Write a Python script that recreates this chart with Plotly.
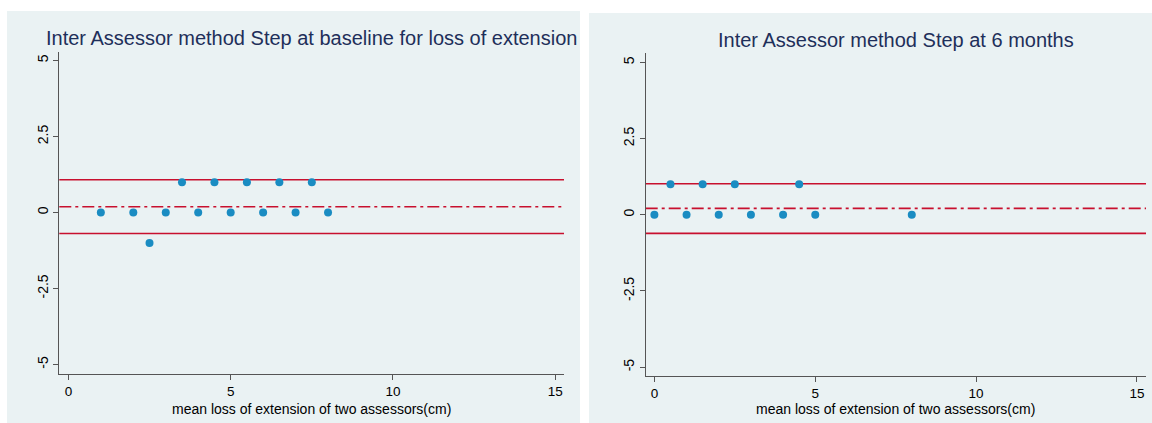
import plotly.graph_objects as go

# ---- data ----
base_mean = [1, 2, 3, 4, 5, 6, 7, 8, 3.5, 4.5, 5.5, 6.5, 7.5, 2.5]
base_diff = [0, 0, 0, 0, 0, 0, 0, 0, 1, 1, 1, 1, 1, -1]
base_lines = [1.08, 0.19, -0.69]   # upper LoA, mean diff, lower LoA

m6_mean = [0, 1, 2, 3, 4, 5, 8, 0.5, 1.5, 2.5, 4.5]
m6_diff = [0, 0, 0, 0, 0, 0, 0, 1, 1, 1, 1]
m6_lines = [1.02, 0.21, -0.61]

titles = ["Inter Assessor method Step at baseline for loss of extension",
          "Inter Assessor method Step at 6 months"]
x_title = "mean loss of extension of two assessors(cm)"
x_ticks = [0, 5, 10, 15]
y_ticks = [-5, -2.5, 0, 2.5, 5]
y_ticktext = ["-5", "-2.5", "0", "2.5", "5"]

W, H = 1152, 423
PANEL = "#EAF2F3"
MARK = "#1A8CC2"
RED = "#C8102E"
NAVY = "#1E2F5A"
FONT = "Liberation Sans, Arial, sans-serif"

fig = go.Figure()

panels = [
    dict(mx=base_mean, dy=base_diff, lines=base_lines, xa="x", ya="y",
         xd=[59.3 / W, 564 / W], yd=[1 - 373.7 / H, 1 - 51.7 / H],
         xr=[-0.28, 15.27], yr=[-5.3, 5.29],
         bg=[7, 580, 11, H], title_y=38),
    dict(mx=m6_mean, dy=m6_diff, lines=m6_lines, xa="x2", ya="y2",
         xd=[645.7 / W, 1146 / W], yd=[1 - 375.7 / H, 1 - 53.3 / H],
         xr=[-0.27, 15.28], yr=[-5.28, 5.3],
         bg=[589, W, 13, H], title_y=40),
]

shapes = []
annotations = []
for i, p in enumerate(panels):
    # panel background
    x0, x1, y0, y1 = p["bg"]
    shapes.append(dict(type="rect", xref="paper", yref="paper", layer="below",
                       x0=x0 / W, x1=x1 / W, y0=1 - y1 / H, y1=1 - y0 / H,
                       fillcolor=PANEL, line=dict(width=0)))
    # reference lines
    for j, v in enumerate(p["lines"]):
        shapes.append(dict(type="line", xref=p["xa"] + " domain", yref=p["ya"],
                           x0=0, x1=1, y0=v, y1=v, layer="below",
                           line=dict(color=RED, width=1.6,
                                     dash="solid" if j != 1 else "12px,4px,3px,4px")))
    fig.add_trace(go.Scatter(x=p["mx"], y=p["dy"], mode="markers", xaxis=p["xa"], yaxis=p["ya"],
                             marker=dict(size=8, color=MARK, line=dict(width=0)),
                             showlegend=False, hoverinfo="x+y"))
    xc = (p["xd"][0] + p["xd"][1]) / 2
    annotations.append(dict(text=titles[i], xref="paper", yref="paper", x=xc, y=1 - p["title_y"] / H,
                            xanchor="center", yanchor="middle", showarrow=False,
                            font=dict(family=FONT, size=20, color=NAVY)))
    annotations.append(dict(text=x_title, xref="paper", yref="paper", x=xc,
                            y=1 - (p["yd"][0] * 0 + 409) / H,
                            xanchor="center", yanchor="middle", showarrow=False,
                            font=dict(family=FONT, size=14, color="#000000")))

axis_common = dict(showline=True, linecolor="#555555", linewidth=1.3, ticks="outside",
                   ticklen=5, tickcolor="#555555", tickwidth=1.2, zeroline=False,
                   fixedrange=True)

layout_axes = {}
for i, p in enumerate(panels):
    sx = "" if i == 0 else "2"
    layout_axes["xaxis" + sx] = dict(domain=p["xd"], range=p["xr"], anchor="y" + sx,
                                     tickvals=x_ticks, showgrid=False,
                                     tickfont=dict(family=FONT, size=13.5, color="#000000"),
                                     **axis_common)
    layout_axes["yaxis" + sx] = dict(domain=p["yd"], range=p["yr"], anchor="x" + sx,
                                     tickvals=y_ticks, ticktext=y_ticktext, tickangle=-90,
                                     showgrid=False,
                                     tickfont=dict(family=FONT, size=14, color="#000000"),
                                     minor=dict(tickvals=[-2.5, 0, 2.5], showgrid=True,
                                                gridcolor=PANEL, gridwidth=1.5, ticks=""),
                                     **axis_common)

fig.update_layout(width=W, height=H, margin=dict(l=0, r=0, t=0, b=0),
                  paper_bgcolor="white", plot_bgcolor="white",
                  shapes=shapes, annotations=annotations, **layout_axes)

fig.write_html("out.html")
